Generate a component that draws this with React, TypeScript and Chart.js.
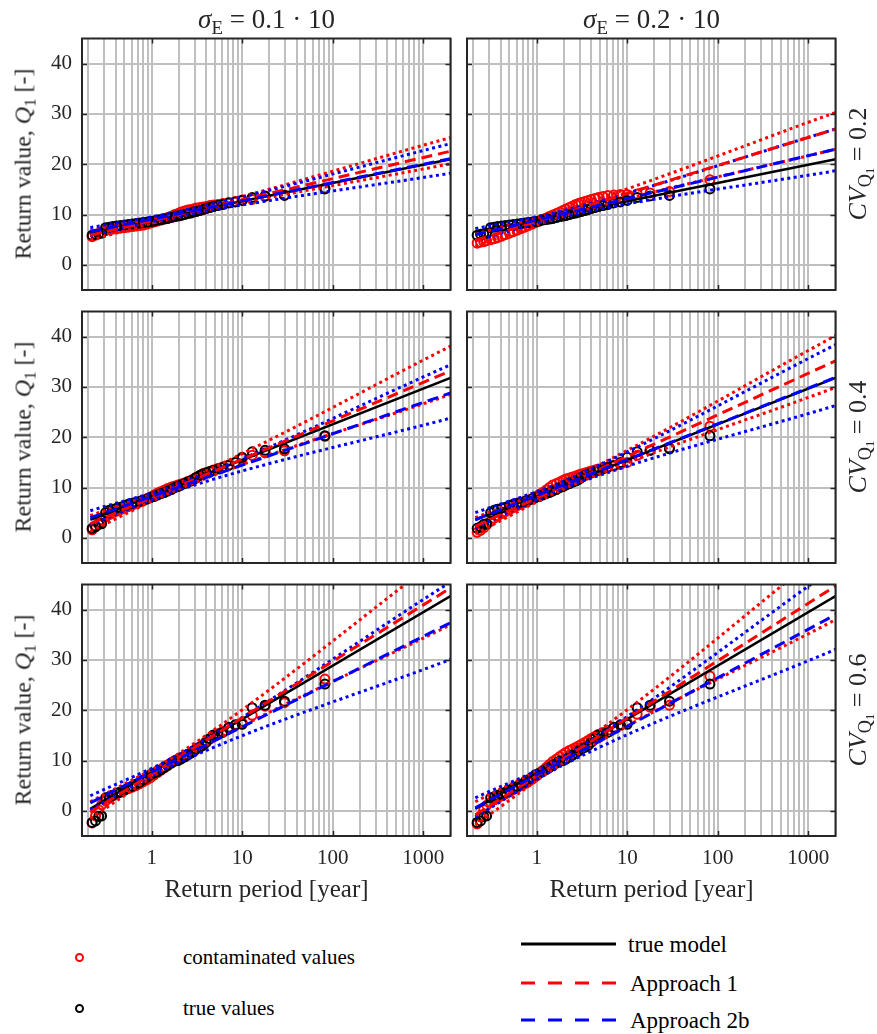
import React, { useEffect, useRef } from "react";
import { Chart, registerables } from "chart.js";

Chart.register(...registerables);

const FONT = "'Liberation Serif', 'Times New Roman', serif";

// ---------- axis values ----------
const xMin = 0.17;
const xMax = 2000;
const yMin = -5;
const yMax = 45;
const xGridValues = [
  0.2, 0.3, 0.4, 0.5, 0.6, 0.7, 0.8, 0.9, 1, 2, 3, 4, 5, 6, 7, 8, 9, 10, 20, 30, 40, 50, 60, 70, 80, 90,
  100, 200, 300, 400, 500, 600, 700, 800, 900, 1000, 2000,
];
const xLabelValues = [1, 10, 100, 1000];
const yTickValues = [0, 10, 20, 30, 40];
const columnSigma = ["0.1", "0.2"];
const rowCV = ["0.2", "0.4", "0.6"];

// ---------- empirical return periods (shared plotting positions) ----------
const returnPeriods = [
  82, 29.3, 17.9, 12.9, 10.0, 8.4, 7.1, 6.1, 5.4, 4.8, 4.4, 4.0, 3.7, 3.4, 3.1, 2.9, 2.7, 2.5, 2.3, 2.1,
  1.95, 1.8, 1.65, 1.5, 1.38, 1.27, 1.16, 1.06, 0.97, 0.89, 0.81, 0.74, 0.67, 0.61, 0.55, 0.5, 0.45, 0.41,
  0.37, 0.34, 0.31, 0.28, 0.26, 0.24, 0.22,
];

// true values per row (CV = 0.2, 0.4, 0.6)
const trueValuesRow1 = [
  15.1, 13.8, 13.7, 13.4, 12.8, 12.5, 12.3, 12.0, 11.8, 11.6, 11.4, 11.2, 11.0, 10.8, 10.6, 10.5, 10.3, 10.2,
  10.0, 9.8, 9.7, 9.6, 9.4, 9.2, 9.1, 9.0, 8.9, 8.7, 8.6, 8.5, 8.4, 8.3, 8.2, 8.1, 8.0, 7.9, 7.8, 7.7, 7.6,
  7.5, 7.4, 6.3, 6.2, 6.1, 5.9,
];
const trueValuesRow2 = [
  20.3, 17.7, 17.4, 17.1, 16.0, 15.0, 14.4, 14.0, 13.7, 13.4, 13.2, 12.9, 12.7, 12.4, 12.0, 11.6, 11.3, 11.1,
  10.8, 10.5, 10.2, 10.0, 9.6, 9.3, 9.0, 8.8, 8.5, 8.2, 8.0, 7.7, 7.5, 7.3, 7.1, 6.9, 6.7, 6.4, 6.1, 5.9, 5.7,
  5.5, 5.0, 2.8, 2.7, 2.2, 1.9,
];
const trueValuesRow3 = [
  25.2, 21.8, 21.0, 20.5, 17.2, 17.1, 16.6, 15.6, 15.3, 15.1, 14.4, 13.6, 13.0, 12.6, 12.3, 11.9, 11.5, 11.1,
  10.7, 10.3, 10.0, 9.9, 9.5, 9.0, 8.6, 8.2, 7.8, 7.5, 7.2, 6.7, 6.2, 5.7, 5.3, 4.9, 4.5, 4.1, 3.7, 3.4, 3.1,
  2.8, 2.6, -1.0, -1.1, -2.0, -2.3,
];

// contaminated values per panel
const contamR1C1 = [
  15.3, 13.9, 13.6, 13.0, 12.9, 12.6, 12.4, 12.2, 12.0, 11.9, 11.8, 11.6, 11.5, 11.4, 11.3, 11.1, 11.0, 10.9,
  10.7, 10.5, 10.2, 10.0, 9.7, 9.4, 9.2, 8.9, 8.7, 8.5, 8.3, 8.1, 7.9, 7.8, 7.7, 7.6, 7.5, 7.4, 7.3, 7.2, 7.1,
  7.0, 6.8, 6.5, 6.2, 5.9, 5.6,
];
const contamR1C2 = [
  16.9, 14.6, 14.3, 14.1, 14.0, 14.0, 13.9, 13.8, 13.6, 13.4, 13.2, 13.0, 12.8, 12.6, 12.4, 12.2, 12.0, 11.7,
  11.4, 11.1, 10.8, 10.5, 10.2, 9.9, 9.6, 9.3, 9.0, 8.7, 8.4, 8.1, 7.8, 7.5, 7.2, 6.9, 6.6, 6.3, 6.0, 5.7, 5.4,
  5.2, 5.0, 4.8, 4.6, 4.5, 4.3,
];
const contamR2C1 = [
  20.2, 17.3, 16.9, 16.4, 15.8, 15.0, 14.5, 14.1, 13.8, 13.5, 13.2, 13.0, 12.8, 12.4, 12.0, 11.7, 11.4, 11.2,
  10.9, 10.7, 10.5, 10.3, 10.1, 9.8, 9.5, 9.2, 8.9, 8.5, 8.1, 7.8, 7.4, 7.1, 6.8, 6.5, 6.2, 5.9, 5.6, 5.3, 5.0,
  4.6, 4.2, 3.6, 3.0, 2.4, 1.6,
];
const contamR2C2 = [
  22.2, 17.9, 17.4, 16.4, 15.0, 14.6, 14.3, 14.1, 13.9, 13.7, 13.5, 13.3, 13.1, 12.9, 12.7, 12.5, 12.3, 12.1,
  11.9, 11.7, 11.4, 11.1, 10.8, 10.5, 10.0, 9.5, 9.0, 8.6, 8.2, 7.8, 7.4, 7.0, 6.7, 6.4, 6.0, 5.6, 5.2, 4.8,
  4.4, 3.9, 3.3, 2.6, 2.0, 1.5, 1.1,
];
const contamR3C1 = [
  26.2, 21.5, 20.8, 19.0, 17.5, 17.0, 16.4, 15.8, 15.3, 14.8, 14.3, 13.8, 13.2, 12.7, 12.2, 11.8, 11.5, 11.2,
  10.9, 10.6, 10.3, 10.0, 9.6, 9.1, 8.6, 8.1, 7.6, 7.1, 6.6, 6.2, 5.8, 5.4, 5.0, 4.7, 4.4, 4.1, 3.8, 3.4, 3.0,
  2.5, 2.0, 1.2, 0.2, -1.0, -2.4,
];
const contamR3C2 = [
  26.8, 21.0, 20.6, 19.2, 17.6, 17.0, 16.5, 16.0, 15.6, 15.2, 14.8, 14.4, 14.0, 13.6, 13.2, 12.9, 12.6, 12.3,
  12.0, 11.6, 11.2, 10.8, 10.3, 9.8, 9.2, 8.6, 8.0, 7.4, 6.8, 6.3, 5.8, 5.4, 5.0, 4.6, 4.2, 3.8, 3.4, 3.0, 2.6,
  2.2, 1.7, 1.1, 0.2, -1.2, -2.6,
];

// ---------- fitted lines ----------
const lineT = [0.21, 2000];
const bandT = [0.21, 2, 2000];

// row 1, column 1
const modelR1C1 = [6.6, 21.0];
const app1R1C1 = [5.9, 22.6];
const app1UpR1C1 = [6.9, 10.4, 25.3];
const app1LoR1C1 = [4.9, 9.6, 20.1];
const app2bR1C1 = [6.6, 21.1];
const app2bUpR1C1 = [7.4, 10.6, 24.1];
const app2bLoR1C1 = [5.8, 9.7, 18.2];
// row 1, column 2
const modelR1C2 = [6.6, 21.0];
const app1R1C2 = [4.85, 27.0];
const app1UpR1C2 = [6.1, 10.9, 30.3];
const app1LoR1C2 = [3.7, 9.7, 23.0];
const app2bR1C2 = [6.0, 23.0];
const app2bUpR1C2 = [7.2, 10.8, 27.0];
const app2bLoR1C2 = [4.8, 9.6, 18.7];
// row 2, column 1
const modelR2C1 = [3.6, 31.8];
const app1R2C1 = [2.8, 33.2];
const app1UpR2C1 = [4.4, 10.9, 38.1];
const app1LoR2C1 = [1.3, 9.7, 28.5];
const app2bR2C1 = [4.0, 28.8];
const app2bUpR2C1 = [5.4, 10.7, 34.4];
const app2bLoR2C1 = [2.6, 9.5, 23.8];
// row 2, column 2
const modelR2C2 = [3.6, 31.8];
const app1R2C2 = [2.3, 35.2];
const app1UpR2C2 = [4.0, 11.1, 40.2];
const app1LoR2C2 = [0.8, 9.7, 29.9];
const app2bR2C2 = [3.6, 31.9];
const app2bUpR2C2 = [5.0, 11.3, 38.4];
const app2bLoR2C2 = [2.0, 9.9, 26.3];
// row 3, column 1
const modelR3C1 = [0.4, 42.7];
const app1R3C1 = [-0.3, 44.3];
const app1UpR3C1 = [1.8, 11.4, 51.9];
const app1LoR3C1 = [-1.5, 10.0, 37.0];
const app2bR3C1 = [1.6, 37.4];
const app2bUpR3C1 = [3.0, 11.2, 45.5];
const app2bLoR3C1 = [0.2, 9.6, 30.1];
// row 3, column 2
const modelR3C2 = [0.4, 42.7];
const app1R3C2 = [-0.8, 44.7];
const app1UpR3C2 = [1.8, 11.2, 53.3];
const app1LoR3C2 = [-2.8, 9.6, 38.0];
const app2bR3C2 = [0.6, 39.0];
const app2bUpR3C2 = [2.6, 10.8, 48.5];
const app2bLoR3C2 = [-1.2, 9.2, 32.1];

// ---------- layout ----------
const PL = 60;
const PT = 6;
const PR = 6;
const PB = 40;
const PANEL_W = 369;
const PANEL_H = 252;
const CW = PL + PANEL_W + PR;
const CH = PT + PANEL_H + PB;
const colLefts = [82, 467];
const rowTops = [38, 311, 584];

type PanelSpec = {
  row: number;
  col: number;
  trueVals: number[];
  contam: number[];
  model: number[];
  app1: number[];
  app1Up: number[];
  app1Lo: number[];
  app2b: number[];
  app2bUp: number[];
  app2bLo: number[];
};

const panels: PanelSpec[] = [
  { row: 0, col: 0, trueVals: trueValuesRow1, contam: contamR1C1, model: modelR1C1, app1: app1R1C1, app1Up: app1UpR1C1, app1Lo: app1LoR1C1, app2b: app2bR1C1, app2bUp: app2bUpR1C1, app2bLo: app2bLoR1C1 },
  { row: 0, col: 1, trueVals: trueValuesRow1, contam: contamR1C2, model: modelR1C2, app1: app1R1C2, app1Up: app1UpR1C2, app1Lo: app1LoR1C2, app2b: app2bR1C2, app2bUp: app2bUpR1C2, app2bLo: app2bLoR1C2 },
  { row: 1, col: 0, trueVals: trueValuesRow2, contam: contamR2C1, model: modelR2C1, app1: app1R2C1, app1Up: app1UpR2C1, app1Lo: app1LoR2C1, app2b: app2bR2C1, app2bUp: app2bUpR2C1, app2bLo: app2bLoR2C1 },
  { row: 1, col: 1, trueVals: trueValuesRow2, contam: contamR2C2, model: modelR2C2, app1: app1R2C2, app1Up: app1UpR2C2, app1Lo: app1LoR2C2, app2b: app2bR2C2, app2bUp: app2bUpR2C2, app2bLo: app2bLoR2C2 },
  { row: 2, col: 0, trueVals: trueValuesRow3, contam: contamR3C1, model: modelR3C1, app1: app1R3C1, app1Up: app1UpR3C1, app1Lo: app1LoR3C1, app2b: app2bR3C1, app2bUp: app2bUpR3C1, app2bLo: app2bLoR3C1 },
  { row: 2, col: 1, trueVals: trueValuesRow3, contam: contamR3C2, model: modelR3C2, app1: app1R3C2, app1Up: app1UpR3C2, app1Lo: app1LoR3C2, app2b: app2bR3C2, app2bUp: app2bUpR3C2, app2bLo: app2bLoR3C2 },
];

const RED = "#ff0000";
const BLUE = "#0000ff";
const FRAME = "#262626";
const GRID = "#bfbfbf";
const DASH = [11, 6];
const DOT = [3, 3.5];

function toXY(xs: number[], ys: number[]) {
  return xs.map((x, i) => ({ x, y: ys[i] }));
}

const framePlugin = {
  id: "matlabFrame",
  afterDraw(chart: any) {
    const { ctx, chartArea, scales } = chart;
    const { left, top, right, bottom } = chartArea;
    const xs = scales.x;
    const ys = scales.y;
    ctx.save();
    ctx.strokeStyle = FRAME;
    ctx.lineWidth = 1.5;
    ctx.beginPath();
    for (const v of xLabelValues) {
      const px = Math.round(xs.getPixelForValue(v)) + 0.5;
      ctx.moveTo(px, bottom);
      ctx.lineTo(px, bottom - 5);
      ctx.moveTo(px, top);
      ctx.lineTo(px, top + 5);
    }
    for (const v of yTickValues) {
      const py = Math.round(ys.getPixelForValue(v)) + 0.5;
      ctx.moveTo(left, py);
      ctx.lineTo(left + 5, py);
      ctx.moveTo(right, py);
      ctx.lineTo(right - 5, py);
    }
    ctx.stroke();
    ctx.lineWidth = 2;
    ctx.strokeRect(left, top, right - left, bottom - top);
    ctx.restore();
  },
};

function Panel({ spec }: { spec: PanelSpec }) {
  const ref = useRef<HTMLCanvasElement | null>(null);
  useEffect(() => {
    const showY = spec.col === 0;
    const showX = spec.row === 2;
    const lineDs = (data: any, color: string, dash: number[], width: number, order: number, smooth: boolean) => ({
      data,
      showLine: true,
      borderColor: color,
      backgroundColor: color,
      borderDash: dash,
      borderWidth: width,
      borderCapStyle: "butt",
      pointRadius: 0,
      pointHoverRadius: 0,
      cubicInterpolationMode: smooth ? "monotone" : "default",
      clip: 0,
      order,
    });
    const chart = new Chart(ref.current as HTMLCanvasElement, {
      type: "scatter",
      data: {
        datasets: [
          lineDs(toXY(lineT, spec.app2b), BLUE, DASH, 3, 1, false),
          lineDs(toXY(lineT, spec.app1), RED, DASH, 3, 2, false),
          lineDs(toXY(bandT, spec.app2bUp), BLUE, DOT, 3, 3, true),
          lineDs(toXY(bandT, spec.app2bLo), BLUE, DOT, 3, 3, true),
          lineDs(toXY(bandT, spec.app1Up), RED, DOT, 3, 4, true),
          lineDs(toXY(bandT, spec.app1Lo), RED, DOT, 3, 4, true),
          lineDs(toXY(lineT, spec.model), "#000000", [], 2.5, 5, false),
          {
            data: toXY(returnPeriods, spec.trueVals),
            pointStyle: "circle",
            pointRadius: 4.5,
            pointBorderWidth: 2,
            pointBorderColor: "#000000",
            pointBackgroundColor: "rgba(0,0,0,0)",
            showLine: false,
            clip: 0,
            order: 6,
          },
          {
            data: toXY(returnPeriods, spec.contam),
            pointStyle: "circle",
            pointRadius: 4.5,
            pointBorderWidth: 2,
            pointBorderColor: RED,
            pointBackgroundColor: "rgba(0,0,0,0)",
            showLine: false,
            clip: 0,
            order: 7,
          },
        ] as any,
      },
      options: {
        animation: false,
        responsive: false,
        maintainAspectRatio: false,
        events: [],
        layout: { padding: { top: PT, right: PR, left: 0, bottom: 0 } },
        plugins: { legend: { display: false }, tooltip: { enabled: false } },
        scales: {
          x: {
            type: "logarithmic",
            position: "bottom",
            min: xMin,
            max: xMax,
            afterBuildTicks: (s: any) => {
              s.ticks = xGridValues.map((v) => ({ value: v }));
            },
            afterFit: (s: any) => {
              s.height = PB;
              s.paddingLeft = 0;
              s.paddingRight = 0;
            },
            grid: { color: GRID, lineWidth: 2, drawTicks: false },
            border: { display: false },
            ticks: {
              autoSkip: false,
              maxRotation: 0,
              minRotation: 0,
              padding: 10,
              color: FRAME,
              font: { family: FONT, size: 21 },
              callback: (v: any) => (showX && xLabelValues.includes(Number(v)) ? String(v) : ""),
            },
          },
          y: {
            type: "linear",
            position: "left",
            min: yMin,
            max: yMax,
            afterBuildTicks: (s: any) => {
              s.ticks = yTickValues.map((v) => ({ value: v }));
            },
            afterFit: (s: any) => {
              s.width = PL;
              s.paddingTop = 0;
              s.paddingBottom = 0;
            },
            grid: { color: GRID, lineWidth: 2, drawTicks: false },
            border: { display: false },
            ticks: {
              padding: 10,
              color: FRAME,
              font: { family: FONT, size: 21 },
              callback: (v: any) => (showY ? String(v) : ""),
            },
          },
        },
      } as any,
      plugins: [framePlugin],
    });
    return () => chart.destroy();
  }, [spec]);
  return (
    <canvas
      ref={ref}
      width={CW}
      height={CH}
      style={{
        position: "absolute",
        left: colLefts[spec.col] - PL,
        top: rowTops[spec.row] - PT,
        width: CW,
        height: CH,
      }}
    />
  );
}

const sub: React.CSSProperties = { fontSize: "0.7em", verticalAlign: "-0.3em", fontStyle: "normal" };

function Centered({ x, y, rotate, size, children }: any) {
  return (
    <div
      style={{
        position: "absolute",
        left: x,
        top: y,
        transform: `translate(-50%, -50%)${rotate ? " rotate(-90deg)" : ""}`,
        whiteSpace: "nowrap",
        fontFamily: FONT,
        fontSize: size,
        color: "#262626",
        lineHeight: 1,
      }}
    >
      {children}
    </div>
  );
}

function LegendText({ x, y, size, children }: any) {
  return (
    <div
      style={{
        position: "absolute",
        left: x,
        top: y,
        transform: "translateY(-50%)",
        whiteSpace: "nowrap",
        fontFamily: FONT,
        fontSize: size,
        color: "#000",
        lineHeight: 1,
      }}
    >
      {children}
    </div>
  );
}

export default function App() {
  const rowCenters = rowTops.map((t) => t + PANEL_H / 2);
  const colCenters = colLefts.map((l) => l + PANEL_W / 2);
  return (
    <div style={{ position: "absolute", left: 0, top: 0, width: 877, height: 1034, background: "#fff", overflow: "hidden" }}>
      {panels.map((p, i) => (
        <Panel key={i} spec={p} />
      ))}
      {colCenters.map((cx, i) => (
        <Centered key={"t" + i} x={cx} y={22} size={27}>
          <i>σ</i>
          <span style={sub}>E</span>
          {" = " + columnSigma[i] + " · 10"}
        </Centered>
      ))}
      {rowCenters.map((cy, i) => (
        <Centered key={"y" + i} x={25} y={cy} size={24}>
          <div style={{ transform: "rotate(-90deg)" }}>
            Return value, <i>Q</i>
            <span style={sub}>1</span> [-]
          </div>
        </Centered>
      ))}
      {rowCenters.map((cy, i) => (
        <Centered key={"r" + i} x={861} y={cy} size={26}>
          <div style={{ transform: "rotate(-90deg)" }}>
            <i>CV</i>
            <span style={sub}>
              Q<span style={{ fontSize: "0.7em", verticalAlign: "-0.2em" }}>1</span>
            </span>
            {" = " + rowCV[i]}
          </div>
        </Centered>
      ))}
      {colCenters.map((cx, i) => (
        <Centered key={"x" + i} x={cx} y={888} size={25}>
          Return period [year]
        </Centered>
      ))}

      {/* legend, left block */}
      <div style={{ position: "absolute", left: 75, top: 953, width: 9, height: 9, borderRadius: "50%", border: `2px solid ${RED}`, boxSizing: "border-box" }} />
      <LegendText x={183} y={957} size={21}>contaminated values</LegendText>
      <div style={{ position: "absolute", left: 75, top: 1004, width: 9, height: 9, borderRadius: "50%", border: "2px solid #000", boxSizing: "border-box" }} />
      <LegendText x={183} y={1008} size={21}>true values</LegendText>

      {/* legend, right block */}
      <svg style={{ position: "absolute", left: 521, top: 930, overflow: "visible" }} width={96} height={100}>
        <line x1={0} y1={14} x2={95} y2={14} stroke="#000" strokeWidth={3} />
        <line x1={0} y1={53} x2={95} y2={53} stroke={RED} strokeWidth={3} strokeDasharray="14 13" />
        <line x1={0} y1={90} x2={95} y2={90} stroke={BLUE} strokeWidth={3} strokeDasharray="14 13" />
      </svg>
      <LegendText x={628} y={944} size={23}>true model</LegendText>
      <LegendText x={630} y={983} size={23}>Approach 1</LegendText>
      <LegendText x={630} y={1020} size={23}>Approach 2b</LegendText>
    </div>
  );
}
